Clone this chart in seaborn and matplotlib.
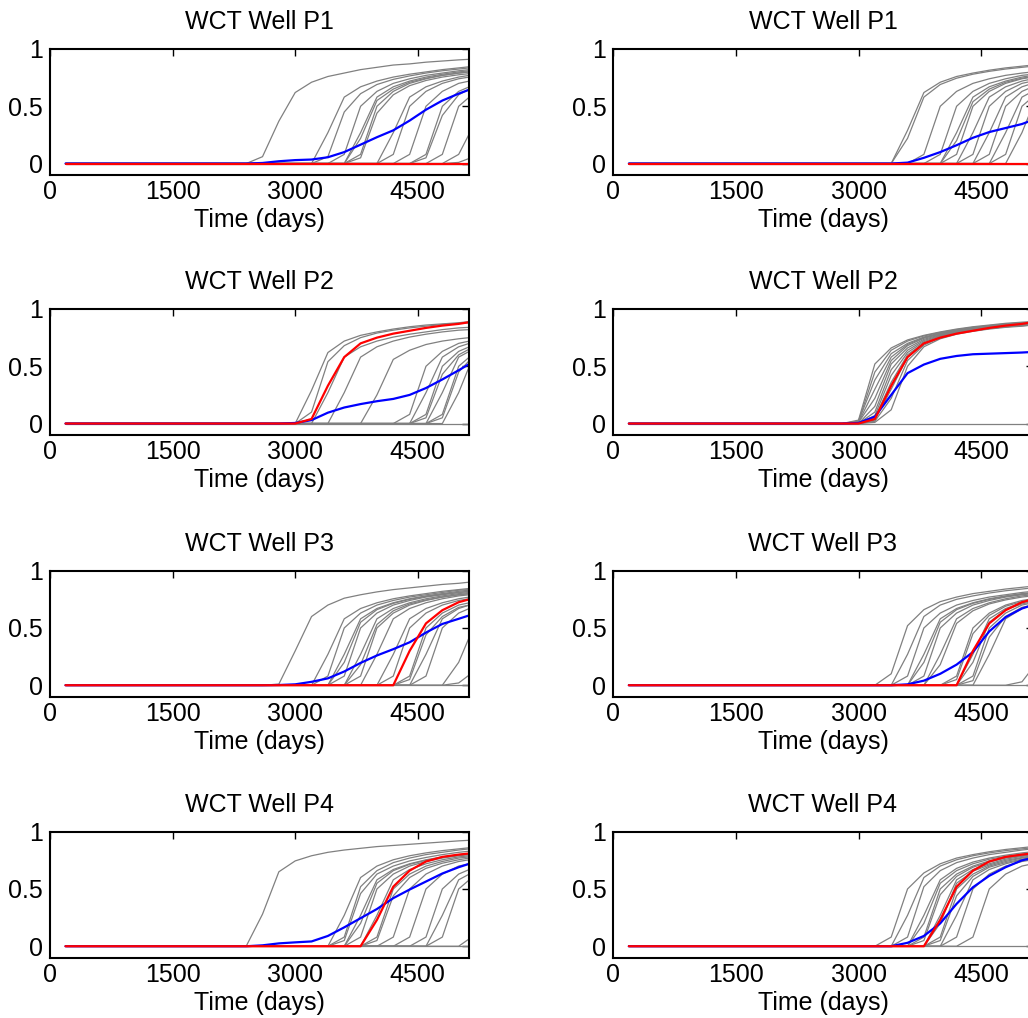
import pandas as pd
import matplotlib
matplotlib.use("Agg")
import matplotlib.pyplot as plt
import seaborn as sns

# report times (days)
days = [190, 2400, 2600, 2800, 3000, 3200, 3400, 3600, 3800, 4000, 4200, 4400, 4600, 4800, 5000, 5130]

wells = ["P1", "P2", "P3", "P4"]

# truth (red), same for both columns
truth_p1 = [0, 0, 0, 0, 0, 0, 0, 0, 0, 0, 0, 0, 0, 0, 0, 0]
truth_p2 = [0, 0, 0, 0, 0, 0.04, 0.33, 0.58, 0.70, 0.75, 0.785, 0.81, 0.835, 0.855, 0.87, 0.885]
truth_p3 = [0, 0, 0, 0, 0, 0, 0, 0, 0, 0, 0, 0.30, 0.54, 0.655, 0.725, 0.75]
truth_p4 = [0, 0, 0, 0, 0, 0, 0, 0, 0, 0.23, 0.52, 0.66, 0.74, 0.78, 0.80, 0.81]

# ensemble mean (blue)
mean_p1_left = [0, 0, 0.005, 0.02, 0.03, 0.035, 0.055, 0.10, 0.165, 0.23, 0.29, 0.375, 0.47, 0.55, 0.61, 0.645]
mean_p1_right = [0, 0, 0, 0, 0, 0, 0, 0.008, 0.05, 0.10, 0.16, 0.225, 0.275, 0.31, 0.345, 0.38]
mean_p2_left = [0, 0, 0, 0, 0.005, 0.03, 0.095, 0.14, 0.17, 0.195, 0.215, 0.25, 0.31, 0.385, 0.465, 0.52]
mean_p2_right = [0, 0, 0, 0, 0.005, 0.06, 0.25, 0.44, 0.515, 0.565, 0.59, 0.605, 0.61, 0.615, 0.62, 0.625]
mean_p3_left = [0, 0, 0, 0.002, 0.008, 0.03, 0.06, 0.12, 0.195, 0.26, 0.315, 0.375, 0.46, 0.535, 0.58, 0.61]
mean_p3_right = [0, 0, 0, 0, 0, 0, 0, 0.008, 0.04, 0.10, 0.18, 0.29, 0.47, 0.595, 0.67, 0.70]
mean_p4_left = [0, 0, 0.008, 0.025, 0.034, 0.042, 0.09, 0.165, 0.245, 0.325, 0.42, 0.495, 0.565, 0.635, 0.69, 0.72]
mean_p4_right = [0, 0, 0, 0, 0, 0, 0, 0.03, 0.09, 0.2, 0.37, 0.515, 0.615, 0.69, 0.75, 0.77]

# ensemble members (gray)
ens_p1_left = [
    [0, 0, 0.06, 0.37, 0.62, 0.71, 0.76, 0.79, 0.82, 0.84, 0.86, 0.87, 0.885, 0.895, 0.905, 0.91],
    [0, 0, 0, 0, 0, 0, 0.27, 0.58, 0.67, 0.72, 0.755, 0.78, 0.80, 0.82, 0.835, 0.845],
    [0, 0, 0, 0, 0, 0, 0.06, 0.45, 0.61, 0.69, 0.735, 0.765, 0.79, 0.81, 0.825, 0.835],
    [0, 0, 0, 0, 0, 0, 0, 0.08, 0.50, 0.63, 0.70, 0.74, 0.77, 0.79, 0.81, 0.82],
    [0, 0, 0, 0, 0, 0, 0, 0, 0.27, 0.58, 0.67, 0.72, 0.755, 0.78, 0.80, 0.81],
    [0, 0, 0, 0, 0, 0, 0, 0, 0.22, 0.55, 0.65, 0.71, 0.745, 0.77, 0.79, 0.80],
    [0, 0, 0, 0, 0, 0, 0, 0, 0.08, 0.50, 0.63, 0.70, 0.74, 0.77, 0.79, 0.80],
    [0, 0, 0, 0, 0, 0, 0, 0, 0.05, 0.44, 0.60, 0.68, 0.725, 0.755, 0.775, 0.785],
    [0, 0, 0, 0, 0, 0, 0, 0, 0, 0, 0.27, 0.58, 0.67, 0.72, 0.755, 0.77],
    [0, 0, 0, 0, 0, 0, 0, 0, 0, 0, 0.08, 0.50, 0.63, 0.70, 0.74, 0.755],
    [0, 0, 0, 0, 0, 0, 0, 0, 0, 0, 0, 0.08, 0.50, 0.63, 0.70, 0.72],
    [0, 0, 0, 0, 0, 0, 0, 0, 0, 0, 0, 0, 0.08, 0.50, 0.63, 0.67],
    [0, 0, 0, 0, 0, 0, 0, 0, 0, 0, 0, 0, 0.05, 0.42, 0.60, 0.65],
    [0, 0, 0, 0, 0, 0, 0, 0, 0, 0, 0, 0, 0, 0.08, 0.50, 0.58],
    [0, 0, 0, 0, 0, 0, 0, 0, 0, 0, 0, 0, 0, 0, 0.08, 0.26],
    [0, 0, 0, 0, 0, 0, 0, 0, 0, 0, 0, 0, 0, 0, 0.01, 0.045],
    [0, 0, 0, 0, 0, 0, 0, 0, 0, 0, 0, 0, 0, 0, 0, 0],
]
ens_p1_right = [
    [0, 0, 0, 0, 0, 0, 0, 0.29, 0.62, 0.71, 0.76, 0.79, 0.815, 0.835, 0.85, 0.86],
    [0, 0, 0, 0, 0, 0, 0, 0.22, 0.58, 0.69, 0.745, 0.78, 0.805, 0.825, 0.84, 0.85],
    [0, 0, 0, 0, 0, 0, 0, 0, 0.08, 0.50, 0.63, 0.70, 0.74, 0.77, 0.79, 0.80],
    [0, 0, 0, 0, 0, 0, 0, 0, 0, 0.08, 0.50, 0.63, 0.70, 0.74, 0.77, 0.78],
    [0, 0, 0, 0, 0, 0, 0, 0, 0, 0, 0.27, 0.58, 0.67, 0.72, 0.755, 0.77],
    [0, 0, 0, 0, 0, 0, 0, 0, 0, 0, 0.20, 0.54, 0.65, 0.71, 0.745, 0.76],
    [0, 0, 0, 0, 0, 0, 0, 0, 0, 0, 0.08, 0.50, 0.63, 0.70, 0.74, 0.755],
    [0, 0, 0, 0, 0, 0, 0, 0, 0, 0, 0, 0.27, 0.58, 0.67, 0.72, 0.74],
    [0, 0, 0, 0, 0, 0, 0, 0, 0, 0, 0, 0.08, 0.50, 0.63, 0.70, 0.72],
    [0, 0, 0, 0, 0, 0, 0, 0, 0, 0, 0, 0, 0.27, 0.58, 0.67, 0.70],
    [0, 0, 0, 0, 0, 0, 0, 0, 0, 0, 0, 0, 0.08, 0.50, 0.63, 0.67],
    [0, 0, 0, 0, 0, 0, 0, 0, 0, 0, 0, 0, 0, 0.27, 0.58, 0.63],
    [0, 0, 0, 0, 0, 0, 0, 0, 0, 0, 0, 0, 0, 0.08, 0.50, 0.58],
    [0, 0, 0, 0, 0, 0, 0, 0, 0, 0, 0, 0, 0, 0, 0.27, 0.50],
    [0, 0, 0, 0, 0, 0, 0, 0, 0, 0, 0, 0, 0, 0, 0, 0],
]
ens_p2_left = [
    [0, 0, 0, 0, 0, 0.29, 0.62, 0.72, 0.77, 0.80, 0.825, 0.845, 0.86, 0.87, 0.88, 0.89],
    [0, 0, 0, 0, 0, 0.10, 0.54, 0.68, 0.75, 0.79, 0.815, 0.835, 0.85, 0.865, 0.875, 0.88],
    [0, 0, 0, 0, 0, 0, 0.27, 0.58, 0.67, 0.72, 0.755, 0.78, 0.80, 0.82, 0.835, 0.84],
    [0, 0, 0, 0, 0, 0, 0, 0.27, 0.58, 0.67, 0.72, 0.755, 0.78, 0.80, 0.815, 0.82],
    [0, 0, 0, 0, 0, 0, 0, 0, 0, 0.25, 0.56, 0.64, 0.69, 0.72, 0.74, 0.75],
    [0, 0, 0, 0, 0, 0, 0, 0, 0, 0, 0, 0.08, 0.50, 0.63, 0.70, 0.72],
    [0, 0, 0, 0, 0, 0, 0, 0, 0, 0, 0, 0, 0.27, 0.58, 0.67, 0.70],
    [0, 0, 0, 0, 0, 0, 0, 0, 0, 0, 0, 0, 0.08, 0.50, 0.63, 0.67],
    [0, 0, 0, 0, 0, 0, 0, 0, 0, 0, 0, 0, 0.05, 0.43, 0.60, 0.65],
    [0, 0, 0, 0, 0, 0, 0, 0, 0, 0, 0, 0, 0, 0.27, 0.58, 0.63],
    [0, 0, 0, 0, 0, 0, 0, 0, 0, 0, 0, 0, 0, 0.08, 0.50, 0.58],
    [0, 0, 0, 0, 0, 0, 0, 0, 0, 0, 0, 0, 0, 0.05, 0.45, 0.55],
    [0, 0, 0, 0, 0, 0, 0, 0, 0, 0, 0, 0, 0, 0, 0.27, 0.50],
    [0, 0, 0, 0, 0, 0, 0, 0, 0, 0, 0, 0, 0, 0, 0, 0],
]
ens_p2_right = [
    [0, 0, 0, 0, 0.03, 0.52, 0.66, 0.73, 0.77, 0.80, 0.825, 0.845, 0.86, 0.875, 0.885, 0.89],
    [0, 0, 0, 0, 0.02, 0.45, 0.64, 0.72, 0.765, 0.795, 0.82, 0.84, 0.855, 0.87, 0.88, 0.885],
    [0, 0, 0, 0, 0.02, 0.38, 0.61, 0.70, 0.755, 0.79, 0.815, 0.835, 0.85, 0.865, 0.875, 0.88],
    [0, 0, 0, 0, 0.01, 0.30, 0.58, 0.69, 0.75, 0.785, 0.81, 0.83, 0.845, 0.86, 0.87, 0.875],
    [0, 0, 0, 0, 0.01, 0.22, 0.55, 0.68, 0.745, 0.78, 0.805, 0.825, 0.845, 0.86, 0.87, 0.875],
    [0, 0, 0, 0, 0, 0.15, 0.52, 0.66, 0.735, 0.775, 0.80, 0.82, 0.84, 0.855, 0.865, 0.87],
    [0, 0, 0, 0, 0, 0.10, 0.47, 0.64, 0.725, 0.77, 0.80, 0.82, 0.835, 0.85, 0.86, 0.87],
    [0, 0, 0, 0, 0, 0.07, 0.42, 0.62, 0.715, 0.765, 0.795, 0.815, 0.835, 0.85, 0.86, 0.865],
    [0, 0, 0, 0, 0, 0.05, 0.36, 0.60, 0.705, 0.76, 0.79, 0.815, 0.83, 0.845, 0.86, 0.865],
    [0, 0, 0, 0, 0, 0.03, 0.30, 0.58, 0.695, 0.755, 0.79, 0.81, 0.83, 0.845, 0.855, 0.86],
    [0, 0, 0, 0, 0, 0.02, 0.22, 0.55, 0.685, 0.75, 0.785, 0.81, 0.83, 0.845, 0.855, 0.86],
    [0, 0, 0, 0, 0, 0.01, 0.12, 0.50, 0.67, 0.74, 0.78, 0.805, 0.825, 0.84, 0.85, 0.86],
    [0, 0, 0, 0, 0, 0, 0, 0, 0, 0, 0, 0, 0, 0, 0, 0],
]
ens_p3_left = [
    [0, 0, 0, 0.01, 0.30, 0.60, 0.70, 0.76, 0.79, 0.815, 0.835, 0.85, 0.865, 0.88, 0.89, 0.90],
    [0, 0, 0, 0, 0, 0, 0.27, 0.58, 0.67, 0.72, 0.755, 0.78, 0.80, 0.82, 0.835, 0.845],
    [0, 0, 0, 0, 0, 0, 0.08, 0.50, 0.63, 0.70, 0.74, 0.77, 0.79, 0.81, 0.83, 0.835],
    [0, 0, 0, 0, 0, 0, 0, 0.27, 0.58, 0.67, 0.72, 0.755, 0.78, 0.80, 0.82, 0.83],
    [0, 0, 0, 0, 0, 0, 0, 0.20, 0.55, 0.66, 0.715, 0.75, 0.775, 0.795, 0.81, 0.82],
    [0, 0, 0, 0, 0, 0, 0, 0.08, 0.50, 0.63, 0.70, 0.74, 0.77, 0.79, 0.81, 0.82],
    [0, 0, 0, 0, 0, 0, 0, 0, 0.27, 0.58, 0.67, 0.72, 0.755, 0.78, 0.80, 0.81],
    [0, 0, 0, 0, 0, 0, 0, 0, 0.18, 0.53, 0.65, 0.71, 0.745, 0.77, 0.79, 0.80],
    [0, 0, 0, 0, 0, 0, 0, 0, 0.08, 0.50, 0.63, 0.70, 0.74, 0.77, 0.79, 0.80],
    [0, 0, 0, 0, 0, 0, 0, 0, 0, 0.27, 0.58, 0.67, 0.72, 0.755, 0.78, 0.79],
    [0, 0, 0, 0, 0, 0, 0, 0, 0, 0, 0.27, 0.58, 0.67, 0.72, 0.755, 0.77],
    [0, 0, 0, 0, 0, 0, 0, 0, 0, 0, 0.08, 0.50, 0.63, 0.70, 0.74, 0.755],
    [0, 0, 0, 0, 0, 0, 0, 0, 0, 0, 0, 0.08, 0.50, 0.63, 0.70, 0.72],
    [0, 0, 0, 0, 0, 0, 0, 0, 0, 0, 0, 0.05, 0.44, 0.60, 0.68, 0.70],
    [0, 0, 0, 0, 0, 0, 0, 0, 0, 0, 0, 0, 0.27, 0.58, 0.67, 0.70],
    [0, 0, 0, 0, 0, 0, 0, 0, 0, 0, 0, 0, 0.08, 0.50, 0.63, 0.67],
    [0, 0, 0, 0, 0, 0, 0, 0, 0, 0, 0, 0, 0, 0, 0.20, 0.42],
    [0, 0, 0, 0, 0, 0, 0, 0, 0, 0, 0, 0, 0, 0, 0.02, 0.09],
    [0, 0, 0, 0, 0, 0, 0, 0, 0, 0, 0, 0, 0, 0, 0, 0],
]
ens_p3_right = [
    [0, 0, 0, 0, 0, 0, 0.10, 0.52, 0.66, 0.73, 0.77, 0.80, 0.82, 0.84, 0.855, 0.865],
    [0, 0, 0, 0, 0, 0, 0, 0.27, 0.60, 0.70, 0.75, 0.78, 0.805, 0.825, 0.84, 0.85],
    [0, 0, 0, 0, 0, 0, 0, 0.08, 0.50, 0.63, 0.70, 0.74, 0.77, 0.79, 0.81, 0.82],
    [0, 0, 0, 0, 0, 0, 0, 0, 0.27, 0.58, 0.67, 0.72, 0.755, 0.78, 0.80, 0.81],
    [0, 0, 0, 0, 0, 0, 0, 0, 0.20, 0.55, 0.66, 0.715, 0.75, 0.775, 0.795, 0.805],
    [0, 0, 0, 0, 0, 0, 0, 0, 0.08, 0.50, 0.63, 0.70, 0.74, 0.77, 0.79, 0.80],
    [0, 0, 0, 0, 0, 0, 0, 0, 0, 0.27, 0.58, 0.67, 0.72, 0.755, 0.78, 0.79],
    [0, 0, 0, 0, 0, 0, 0, 0, 0, 0.18, 0.54, 0.65, 0.71, 0.745, 0.77, 0.78],
    [0, 0, 0, 0, 0, 0, 0, 0, 0, 0, 0.08, 0.50, 0.63, 0.70, 0.74, 0.755],
    [0, 0, 0, 0, 0, 0, 0, 0, 0, 0, 0.05, 0.45, 0.61, 0.69, 0.73, 0.745],
    [0, 0, 0, 0, 0, 0, 0, 0, 0, 0, 0, 0.27, 0.58, 0.67, 0.72, 0.74],
    [0, 0, 0, 0, 0, 0, 0, 0, 0, 0, 0, 0.20, 0.55, 0.66, 0.71, 0.73],
    [0, 0, 0, 0, 0, 0, 0, 0, 0, 0, 0, 0.08, 0.50, 0.63, 0.70, 0.72],
    [0, 0, 0, 0, 0, 0, 0, 0, 0, 0, 0, 0.04, 0.42, 0.60, 0.68, 0.70],
    [0, 0, 0, 0, 0, 0, 0, 0, 0, 0, 0, 0, 0.27, 0.58, 0.67, 0.70],
    [0, 0, 0, 0, 0, 0, 0, 0, 0, 0, 0, 0, 0, 0, 0.03, 0.15],
    [0, 0, 0, 0, 0, 0, 0, 0, 0, 0, 0, 0, 0, 0, 0, 0],
]
ens_p4_left = [
    [0, 0, 0.28, 0.65, 0.745, 0.79, 0.82, 0.84, 0.855, 0.87, 0.88, 0.89, 0.90, 0.91, 0.92, 0.925],
    [0, 0, 0, 0, 0, 0, 0, 0.27, 0.60, 0.70, 0.755, 0.79, 0.815, 0.835, 0.85, 0.86],
    [0, 0, 0, 0, 0, 0, 0, 0.08, 0.52, 0.66, 0.73, 0.77, 0.80, 0.82, 0.84, 0.85],
    [0, 0, 0, 0, 0, 0, 0, 0.05, 0.46, 0.63, 0.70, 0.745, 0.775, 0.80, 0.82, 0.83],
    [0, 0, 0, 0, 0, 0, 0, 0, 0.27, 0.58, 0.67, 0.72, 0.755, 0.78, 0.80, 0.81],
    [0, 0, 0, 0, 0, 0, 0, 0, 0.20, 0.55, 0.66, 0.715, 0.75, 0.775, 0.795, 0.805],
    [0, 0, 0, 0, 0, 0, 0, 0, 0.08, 0.50, 0.63, 0.70, 0.74, 0.77, 0.79, 0.80],
    [0, 0, 0, 0, 0, 0, 0, 0, 0, 0.27, 0.58, 0.67, 0.72, 0.755, 0.78, 0.79],
    [0, 0, 0, 0, 0, 0, 0, 0, 0, 0.08, 0.50, 0.63, 0.70, 0.74, 0.77, 0.78],
    [0, 0, 0, 0, 0, 0, 0, 0, 0, 0.05, 0.44, 0.60, 0.68, 0.725, 0.755, 0.77],
    [0, 0, 0, 0, 0, 0, 0, 0, 0, 0, 0.08, 0.50, 0.63, 0.70, 0.74, 0.755],
    [0, 0, 0, 0, 0, 0, 0, 0, 0, 0, 0, 0.08, 0.50, 0.63, 0.70, 0.72],
    [0, 0, 0, 0, 0, 0, 0, 0, 0, 0, 0, 0, 0.08, 0.50, 0.63, 0.67],
    [0, 0, 0, 0, 0, 0, 0, 0, 0, 0, 0, 0, 0, 0.27, 0.58, 0.63],
    [0, 0, 0, 0, 0, 0, 0, 0, 0, 0, 0, 0, 0, 0.08, 0.50, 0.58],
    [0, 0, 0, 0, 0, 0, 0, 0, 0, 0, 0, 0, 0, 0, 0, 0.065],
    [0, 0, 0, 0, 0, 0, 0, 0, 0, 0, 0, 0, 0, 0, 0, 0],
]
ens_p4_right = [
    [0, 0, 0, 0, 0, 0, 0.08, 0.50, 0.64, 0.72, 0.77, 0.80, 0.825, 0.845, 0.86, 0.87],
    [0, 0, 0, 0, 0, 0, 0, 0.27, 0.60, 0.70, 0.755, 0.79, 0.815, 0.835, 0.85, 0.86],
    [0, 0, 0, 0, 0, 0, 0, 0.08, 0.52, 0.66, 0.73, 0.77, 0.80, 0.82, 0.84, 0.85],
    [0, 0, 0, 0, 0, 0, 0, 0, 0.27, 0.58, 0.68, 0.735, 0.77, 0.795, 0.815, 0.825],
    [0, 0, 0, 0, 0, 0, 0, 0, 0.20, 0.55, 0.66, 0.72, 0.76, 0.785, 0.805, 0.815],
    [0, 0, 0, 0, 0, 0, 0, 0, 0.08, 0.50, 0.63, 0.70, 0.745, 0.775, 0.80, 0.81],
    [0, 0, 0, 0, 0, 0, 0, 0, 0.05, 0.45, 0.61, 0.69, 0.735, 0.77, 0.79, 0.80],
    [0, 0, 0, 0, 0, 0, 0, 0, 0, 0.27, 0.58, 0.67, 0.72, 0.76, 0.785, 0.795],
    [0, 0, 0, 0, 0, 0, 0, 0, 0, 0.20, 0.55, 0.655, 0.71, 0.75, 0.775, 0.79],
    [0, 0, 0, 0, 0, 0, 0, 0, 0, 0.08, 0.50, 0.63, 0.70, 0.74, 0.77, 0.78],
    [0, 0, 0, 0, 0, 0, 0, 0, 0, 0.05, 0.44, 0.61, 0.69, 0.73, 0.76, 0.775],
    [0, 0, 0, 0, 0, 0, 0, 0, 0, 0, 0.27, 0.58, 0.67, 0.72, 0.755, 0.77],
    [0, 0, 0, 0, 0, 0, 0, 0, 0, 0, 0.08, 0.50, 0.63, 0.70, 0.74, 0.755],
    [0, 0, 0, 0, 0, 0, 0, 0, 0, 0, 0, 0.08, 0.50, 0.63, 0.70, 0.72],
    [0, 0, 0, 0, 0, 0, 0, 0, 0, 0, 0, 0, 0, 0, 0, 0],
]

truths = [truth_p1, truth_p2, truth_p3, truth_p4]
means_left = [mean_p1_left, mean_p2_left, mean_p3_left, mean_p4_left]
means_right = [mean_p1_right, mean_p2_right, mean_p3_right, mean_p4_right]
ens_left = [ens_p1_left, ens_p2_left, ens_p3_left, ens_p4_left]
ens_right = [ens_p1_right, ens_p2_right, ens_p3_right, ens_p4_right]

sns.set_style("white")
plt.rcParams['font.family'] = ['Liberation Sans', 'DejaVu Sans']
plt.rcParams['axes.edgecolor'] = 'black'
plt.rcParams['text.color'] = 'black'
plt.rcParams['axes.labelcolor'] = 'black'


def to_long(ens):
    rows = []
    for k, curve in enumerate(ens):
        for t, v in zip(days, curve):
            rows.append((k, t, v))
    return pd.DataFrame(rows, columns=['member', 'days', 'wct'])


def draw(ax, ens, mean, truth, well):
    df = to_long(ens)
    sns.lineplot(data=df, x='days', y='wct', units='member', estimator=None,
                 color='#808080', lw=0.9, sort=False, legend=False, ax=ax)
    sns.lineplot(x=days, y=mean, color='#0000ff', lw=1.6, ax=ax)
    sns.lineplot(x=days, y=truth, color='#ff0000', lw=1.6, ax=ax)
    ax.set_xlim(0, 5130)
    ax.set_ylim(-0.1, 1)
    ax.set_xticks([0, 1500, 3000, 4500])
    ax.set_yticks([0, 0.5, 1])
    ax.set_yticklabels(['0', '0.5', '1'])
    ax.tick_params(direction='in', top=True, right=True, length=5, width=1,
                   labelsize=18, colors='black')
    ax.tick_params(axis='x', pad=3.5)
    ax.tick_params(axis='y', pad=5)
    for s in ax.spines.values():
        s.set_linewidth(1.5)
        s.set_color('black')
    ax.set_xlabel('Time (days)', fontsize=18, labelpad=3, color='black')
    ax.set_ylabel('')
    ax.set_title('WCT Well ' + well, fontsize=18, pad=14.5, color='black')


fig = plt.figure(figsize=(10.28, 10.18), dpi=100)
W, H = 1028, 1018
ax_w = 419.3 / W
ax_h = 126 / H
bottoms_px = [175, 435, 696.7, 957.7]
for i, well in enumerate(wells):
    b = 1 - bottoms_px[i] / H
    ax_l = fig.add_axes([50 / W, b, ax_w, ax_h])
    draw(ax_l, ens_left[i], means_left[i], truths[i], well)
    ax_r = fig.add_axes([613.3 / W, b, ax_w, ax_h])
    draw(ax_r, ens_right[i], means_right[i], truths[i], well)

fig.savefig('out.png', dpi=100)
